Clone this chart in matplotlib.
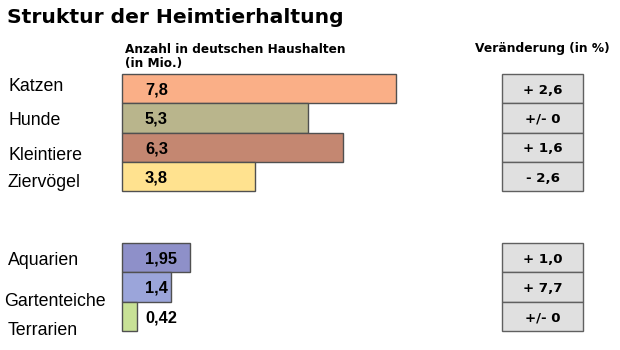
"""Struktur der Heimtierhaltung: horizontale Balken + Veränderungsboxen."""

import matplotlib
import matplotlib.pyplot as plt

matplotlib.use("Agg")

# ---------------------------------------------------------------------------
# Daten
# ---------------------------------------------------------------------------

TITLE = "Struktur der Heimtierhaltung"
SUBTITLE_1 = "Anzahl in deutschen Haushalten"
SUBTITLE_2 = "(in Mio.)"
CHANGE_HEADER = "Veränderung (in %)"

# Gruppe 1: Säugetiere / Vögel
GROUP1_LABELS = ["Katzen", "Hunde", "Kleintiere", "Ziervögel"]
GROUP1_VALUES = [7.8, 5.3, 6.3, 3.8]
GROUP1_TEXTS = ["7,8", "5,3", "6,3", "3,8"]
GROUP1_CHANGES = ["+ 2,6", "+/- 0", "+ 1,6", "- 2,6"]

# Gruppe 2: Aquaristik / Terraristik
GROUP2_LABELS = ["Aquarien", "Gartenteiche", "Terrarien"]
GROUP2_VALUES = [1.95, 1.4, 0.42]
GROUP2_TEXTS = ["1,95", "1,4", "0,42"]
GROUP2_CHANGES = ["+ 1,0", "+ 7,7", "+/- 0"]

# ---------------------------------------------------------------------------
# Layout / Farben
# ---------------------------------------------------------------------------

W, H = 620, 350
PX_PER_UNIT = 35.1          # Pixel pro Mio.
BAR_X0 = 122                # linke Kante der Balken (px)
BAR_X1 = 590
BOX_X0, BOX_X1 = 502, 583

GROUP1_COLORS = ["#FAAF87", "#B9B58C", "#C48771", "#FFE28F"]
GROUP2_COLORS = ["#8E90C9", "#9BA5DA", "#C8E196"]
BAR_EDGE = "#505050"
BOX_FACE = "#E0E0E0"
BOX_EDGE = "#606060"

# Beschriftungen links: Grundlinienversatz zur Balkenmitte (px), linker Rand (px)
GROUP1_LABEL_DY = [2.5, 7, 12.5, 10.5]
GROUP1_LABEL_X = [8, 8, 8, 8]
GROUP2_LABEL_DY = [7.5, 19, 18.5]
GROUP2_LABEL_X = [8, 4, 8]

BOLD = {"family": "DejaVu Sans", "fontweight": "bold"}
ARIAL = "Liberation Sans"


def fx(px):
    return px / W


def fy(py):
    return 1 - py / H


def draw_group(fig, top, labels, values, texts, changes, colors, label_dy, label_x):
    n = len(values)
    row_h = 29.3
    bottom = top + n * row_h
    rows = list(range(n))

    ax = fig.add_axes([fx(BAR_X0), fy(bottom), fx(BAR_X1 - BAR_X0), n * row_h / H])
    ax.barh(rows, values, height=1.0, color=colors, edgecolor=BAR_EDGE,
            linewidth=1.0, clip_on=False)
    ax.set_xlim(0, (BAR_X1 - BAR_X0) / PX_PER_UNIT)
    ax.set_ylim(n - 0.5, -0.5)
    ax.axis("off")

    for r, t in zip(rows, texts):
        ax.annotate(t, xy=(0, r + 0.05), xytext=(23 * 0.72, 0), textcoords="offset points",
                    ha="left", va="center", fontsize=11.8, fontweight="bold",
                    family=ARIAL, color="black")

    for r, lab, dy, lx in zip(rows, labels, label_dy, label_x):
        cy = top + (r + 0.5) * row_h + dy
        fig.text(fx(lx), fy(cy), lab, ha="left", va="baseline",
                 fontsize=12.8, family=ARIAL, color="black")

    bx = fig.add_axes([fx(BOX_X0), fy(bottom), fx(BOX_X1 - BOX_X0), n * row_h / H])
    bx.barh(rows, [1] * n, height=1.0, color=BOX_FACE, edgecolor=BOX_EDGE,
            linewidth=1.0, clip_on=False)
    bx.set_xlim(0, 1)
    bx.set_ylim(n - 0.5, -0.5)
    bx.axis("off")
    for r, c in zip(rows, changes):
        bx.text(0.5, r + 0.05, c, ha="center", va="center", fontsize=9.6, **BOLD)


fig = plt.figure(figsize=(W / 100, H / 100), dpi=100)
fig.patch.set_facecolor("white")

fig.text(fx(7), fy(23), TITLE, ha="left", va="baseline", fontsize=14.6, **BOLD)
fig.text(fx(125), fy(53), SUBTITLE_1, ha="left", va="baseline", fontsize=8.7, **BOLD)
fig.text(fx(125), fy(67), SUBTITLE_2, ha="left", va="baseline", fontsize=8.7, **BOLD)
fig.text(fx((BOX_X0 + BOX_X1) / 2), fy(52), CHANGE_HEADER, ha="center", va="baseline",
         fontsize=8.8, **BOLD)

draw_group(fig, 74, GROUP1_LABELS, GROUP1_VALUES, GROUP1_TEXTS, GROUP1_CHANGES,
           GROUP1_COLORS, GROUP1_LABEL_DY, GROUP1_LABEL_X)
draw_group(fig, 243, GROUP2_LABELS, GROUP2_VALUES, GROUP2_TEXTS, GROUP2_CHANGES,
           GROUP2_COLORS, GROUP2_LABEL_DY, GROUP2_LABEL_X)

fig.savefig("out.png", dpi=100)
plt.close(fig)
